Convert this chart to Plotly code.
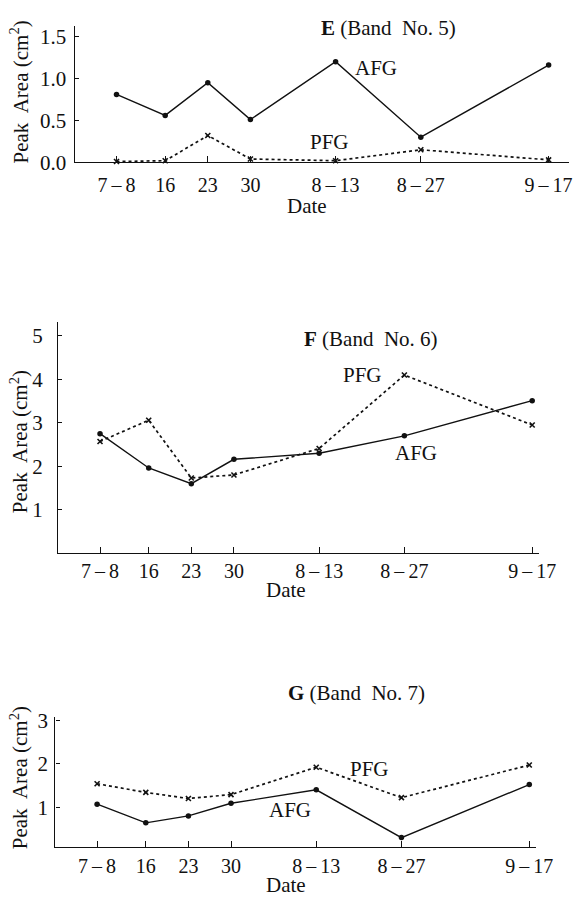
import plotly.graph_objects as go

# ---- data ----
date_days = [0, 8, 15, 22, 36, 50, 71]          # days since 7-8
date_labels = ["7\u2009–\u20098", "16", "23", "30", "8\u2009–\u200913", "8\u2009–\u200927", "9\u2009–\u200917"]

e_afg = [0.81, 0.56, 0.95, 0.51, 1.20, 0.30, 1.16]
e_pfg = [0.01, 0.02, 0.32, 0.04, 0.02, 0.15, 0.03]
f_afg = [2.75, 1.96, 1.60, 2.16, 2.30, 2.70, 3.51]
f_pfg = [2.57, 3.06, 1.73, 1.80, 2.41, 4.10, 2.95]
g_afg = [1.07, 0.64, 0.80, 1.09, 1.40, 0.30, 1.52]
g_pfg = [1.54, 1.34, 1.20, 1.29, 1.92, 1.22, 1.97]

e_yticks = [0, 0.5, 1.0, 1.5]
f_yticks = [1, 2, 3, 4, 5]
g_yticks = [1, 2, 3]

W, H = 586, 909
FONT = "Liberation Serif, Times New Roman, serif"
INK = "#111111"

def px(x):
    return x / W

def py(y):
    return 1 - y / H

panels = [
    dict(afg=e_afg, pfg=e_pfg, xd=(77, 586), yd=(157, 17), xr=[-6.86, 74.35], yr=[0, 1.63],
         yt=e_yticks, ytt=[f"{v:.1f}" for v in e_yticks], ystand=3, xstand=4,
         title=("<b>E</b> (Band  No. 5)", 400, 19), afgl=(387, 60), pfgl=(339, 136),
         date=(316, 202), ylab=85),
    dict(afg=f_afg, pfg=f_pfg, xd=(60, 555), yd=(557, 320), xr=[-6.86, 72.1], yr=[0, 5.33],
         yt=f_yticks, ytt=[str(v) for v in f_yticks], ystand=10, xstand=0,
         title=("<b>F</b> (Band  No. 6)", 382, 338), afgl=(428, 454), pfgl=(373, 375),
         date=(295, 595), ylab=443),
    dict(afg=g_afg, pfg=g_pfg, xd=(57, 552), yd=(858, 725), xr=[-6.86, 72.1], yr=[0.08, 3.07],
         yt=g_yticks, ytt=[str(v) for v in g_yticks], ystand=2, xstand=1,
         title=("<b>G</b> (Band  No. 7)", 367, 700), afgl=(299, 820), pfgl=(381, 778),
         date=(295, 897), ylab=787),
]

fig = go.Figure()
annotations = []
layout = {}

def note(text, x, y, size=21, angle=0):
    return dict(text=text, x=px(x), y=py(y), xref="paper", yref="paper",
                xanchor="center", yanchor="middle", textangle=angle, showarrow=False,
                font=dict(family=FONT, size=size, color=INK))

for i, p in enumerate(panels, start=1):
    sx = "" if i == 1 else str(i)
    xa, ya = "x" + sx, "y" + sx
    fig.add_trace(go.Scatter(x=date_days, y=p["pfg"], xaxis=xa, yaxis=ya, mode="lines+markers",
                             line=dict(color=INK, width=1.7, dash="dot"),
                             marker=dict(symbol="x-thin", size=5, color=INK, line=dict(width=1.6, color=INK)),
                             cliponaxis=False, showlegend=False))
    fig.add_trace(go.Scatter(x=date_days, y=p["afg"], xaxis=xa, yaxis=ya, mode="lines+markers",
                             line=dict(color=INK, width=1.4),
                             marker=dict(symbol="circle", size=5.5, color=INK),
                             cliponaxis=False, showlegend=False))
    layout["xaxis" + sx] = dict(
        domain=[px(p["xd"][0]), px(p["xd"][1])], range=p["xr"], anchor=ya,
        showline=True, linecolor=INK, linewidth=1.4, showgrid=False, zeroline=False,
        ticks="inside", ticklen=6, tickcolor=INK, tickwidth=1.3,
        tickvals=date_days, ticktext=date_labels, ticklabelstandoff=p["xstand"],
        tickfont=dict(family=FONT, size=20, color=INK))
    layout["yaxis" + sx] = dict(
        domain=[py(p["yd"][0]), py(p["yd"][1])], range=p["yr"], anchor=xa,
        showline=True, linecolor=INK, linewidth=1.4, showgrid=False, zeroline=False,
        ticks="inside", ticklen=4, tickcolor=INK, tickwidth=1.3,
        tickvals=p["yt"], ticktext=p["ytt"], ticklabelstandoff=p["ystand"],
        tickfont=dict(family=FONT, size=21, color=INK))
    annotations.append(note(p["title"][0], p["title"][1], p["title"][2]))
    annotations.append(note("AFG", *p["afgl"]))
    annotations.append(note("PFG", *p["pfgl"]))
    annotations.append(note("Date", *p["date"]))
    annotations.append(note("Peak  Area (cm<sup>2</sup>)", 20, p["ylab"], angle=-90))

fig.update_layout(width=W, height=H, margin=dict(l=0, r=0, t=0, b=0),
                  paper_bgcolor="white", plot_bgcolor="white",
                  annotations=annotations, **layout)

fig.write_html("out.html")
